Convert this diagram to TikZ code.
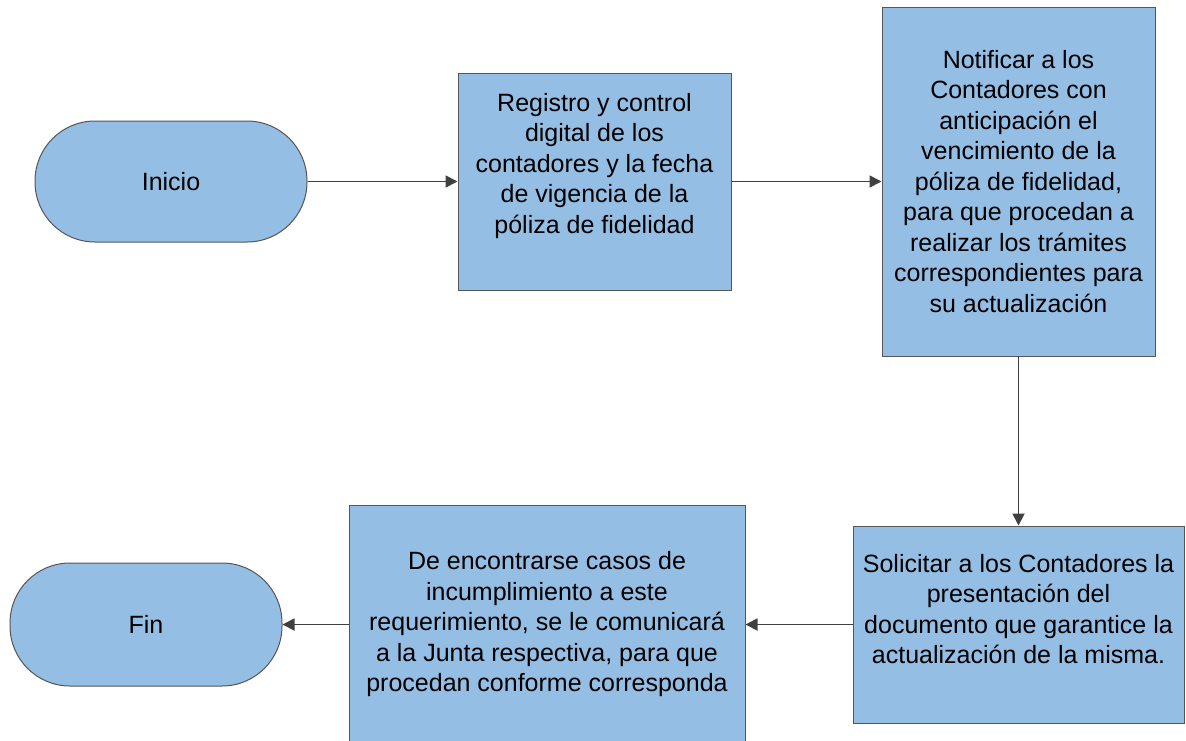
\documentclass[tikz,border=0pt]{standalone}
\usepackage{fontspec}
\setmainfont{Liberation Sans}
\usetikzlibrary{arrows.meta}
\definecolor{boxfill}{RGB}{149,190,228}
\definecolor{boxline}{RGB}{85,85,85}
\definecolor{arrowc}{RGB}{64,64,64}
\begin{document}
\begin{tikzpicture}[x=1pt,y=-1pt,
  every node/.style={font=\fontsize{25}{30.5}\selectfont, align=center, inner sep=0pt},
  proc/.style={draw=boxline, fill=boxfill, line width=1pt, rectangle},
  term/.style={draw=boxline, fill=boxfill, line width=1pt, rectangle, rounded corners=60pt},
  conn/.style={draw=arrowc, line width=1.8pt, -{Triangle[length=12pt,width=12pt]}}
]
\useasboundingbox (0,0) rectangle (1186,740);
\node[term, minimum width=272pt, minimum height=121pt] (inicio) at (171,181.5) {Inicio};
\node[proc, minimum width=273pt, minimum height=217pt] (b1) at (594.5,181.5) {};
\node (b1t) at (594.5,166) {Registro y control\\digital de los\\contadores y la fecha\\de vigencia de la\\póliza de fidelidad};
\node[proc, minimum width=273pt, minimum height=349pt] (b2) at (1018.5,181.5) {Notificar a los\\Contadores con\\anticipación el\\vencimiento de la\\póliza de fidelidad,\\para que procedan a\\realizar los trámites\\correspondientes para\\su actualización};
\node[proc, minimum width=331pt, minimum height=197pt] (b3) at (1018.5,624.5) {};
\node (b3t) at (1018.5,609) {Solicitar a los Contadores la\\presentación del\\documento que garantice la\\actualización de la misma.};
\node[proc, minimum width=396pt, minimum height=250pt] (b4) at (547,630) {};
\node (b4t) at (547,624.5) {De encontrarse casos de\\incumplimiento a este\\requerimiento, se le comunicará\\a la Junta respectiva, para que\\procedan conforme corresponda};
\node[term, minimum width=272pt, minimum height=123pt] (fin) at (146,624.5) {Fin};
\draw[conn] (inicio) -- (b1);
\draw[conn] (b1) -- (b2);
\draw[conn] (b2) -- (b3);
\draw[conn] (b3.west |- b4t) -- (b4.east |- b4t);
\draw[conn] (b4.west |- b4t) -- (fin);
\end{tikzpicture}
\end{document}
